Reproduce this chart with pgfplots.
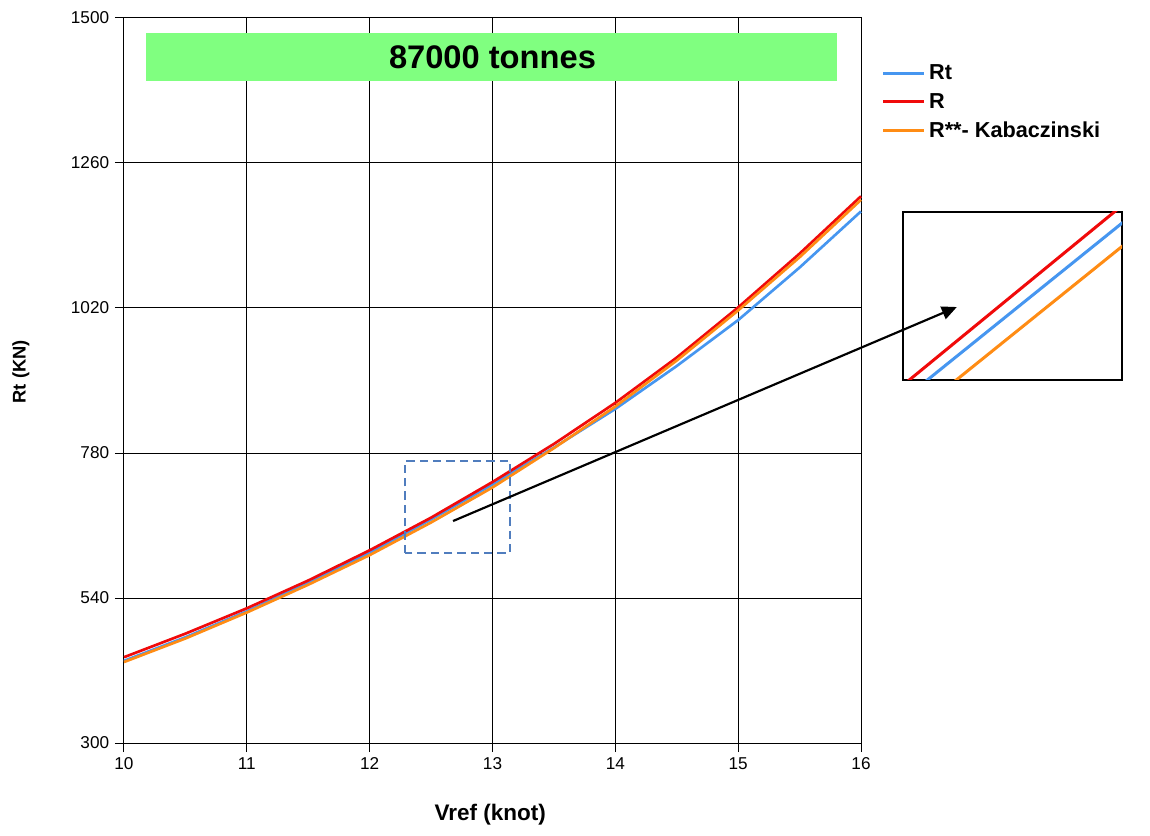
\documentclass[border=0pt]{standalone}
\usepackage{pgfplots}
\pgfplotsset{compat=1.18}
\usepackage{pgfplotstable}
\usepackage{fontspec}
\setmainfont{Liberation Sans}
\usetikzlibrary{arrows.meta}
\definecolor{cblue}{RGB}{70,150,240}
\definecolor{cred}{RGB}{240,10,10}
\definecolor{corange}{RGB}{255,140,20}
\definecolor{cgreen}{RGB}{128,255,128}
\definecolor{cdash}{RGB}{80,125,190}

\pgfplotstableread{
v Rt R K
10   436 442 434
10.5 475 481 473
11   518 523 516
11.5 565 569 562
12   615 619 611
12.5 670 673 665
13   728 732 723
13.5 789 795 788
14   853 863 857
14.5 924 938 933
15   1000 1021 1016
15.5 1087 1110 1104
16   1180 1205 1199
}\datatab

\begin{document}
\begin{tikzpicture}
\path[use as bounding box] (-74.4pt,-55.2pt) rectangle (615.6pt,445.8pt);
\begin{axis}[
  name=main,
  at={(0,0)}, anchor=south west,
  scale only axis,
  width=442.2pt, height=435pt,
  xmin=10, xmax=16, ymin=300, ymax=1500,
  xtick={10,11,...,16},
  ytick={300,540,780,1020,1260,1500},
  grid=major,
  grid style={black, line width=0.6pt},
  axis line style={black, line width=0.6pt},
  tick style={black, line width=0.6pt},
  tick align=outside,
  major tick length=5.4pt,
  xtick pos=bottom, ytick pos=left,
  /pgf/number format/assume math mode=true,
  /pgf/number format/1000 sep={},
  tick label style={font=\fontsize{10.3}{12}\selectfont},
  xlabel={\textbf{Vref (knot)}},
  ylabel={\textbf{Rt (KN)}},
  xlabel style={font=\fontsize{13.5}{15}\selectfont, at={(rel axis cs:0.497,-0.099)}, anchor=center},
  ylabel style={font=\fontsize{11}{13}\selectfont, at={(rel axis cs:-0.140,0.512)}, anchor=center, rotate=0},
  legend style={at={(rel axis cs:1.021,0.945)}, anchor=north west, draw=none, fill=none,
     font=\bfseries\fontsize{13}{15}\selectfont, row sep=2.5pt},
  legend cell align=left,
  legend image code/.code={\draw[#1, line width=1.8pt] (0pt,0pt) -- (24.6pt,0pt);},
  clip=false,
]
\addplot[cblue, line width=1.6pt] table[x=v, y=Rt] {\datatab};
\addlegendentry{Rt}
\addplot[cred, line width=1.6pt] table[x=v, y=R] {\datatab};
\addlegendentry{R}
\addplot[corange, line width=1.6pt] table[x=v, y=K] {\datatab};
\addlegendentry{R**- Kabaczinski}
\fill[cgreen] (axis cs:10.179,1395.7) rectangle (axis cs:15.805,1475);
\node[font=\bfseries\fontsize{19.6}{22}\selectfont] at (axis cs:13.0,1435) {87000 tonnes};
\draw[cdash, line width=1.2pt, dash pattern=on 5pt off 3pt] (axis cs:12.288,614.5) rectangle (axis cs:13.143,766.7);
\coordinate (arrS) at (axis cs:12.679,667.4);
\coordinate (arrE) at (axis cs:16.78,1021.6);
\end{axis}
\begin{axis}[
  name=inset,
  at={(467.4pt,217.8pt)}, anchor=south west,
  scale only axis,
  width=131.4pt, height=100.8pt,
  xmin=12.55, xmax=12.876, ymin=680, ymax=716,
  xtick=\empty, ytick=\empty,
  axis line style={black, line width=1.1pt},
  axis background/.style={fill=white},
]
\addplot[cred, line width=1.8pt] table[x=v, y=R] {\datatab};
\addplot[cblue, line width=1.8pt] table[x=v, y=Rt] {\datatab};
\addplot[corange, line width=1.8pt] table[x=v, y=K] {\datatab};
\end{axis}
\draw[black, line width=1.3pt, -{Triangle[length=9pt,width=8pt]}] (arrS) -- (arrE);
\end{tikzpicture}
\end{document}
